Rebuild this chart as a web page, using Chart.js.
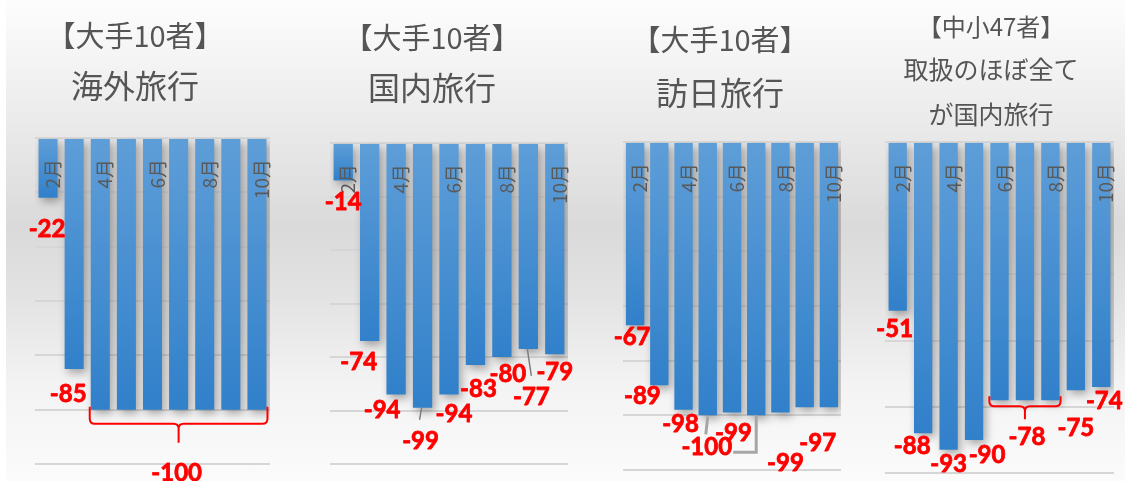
<!DOCTYPE html>
<html lang="ja">
<head>
<meta charset="utf-8">
<title>旅行取扱額 前年同月比</title>
<script src="https://cdn.jsdelivr.net/npm/chart.js@4/dist/chart.umd.min.js"></script>
<style>
  html, body { margin: 0; padding: 0; background: #ffffff; }
  #wrap {
    position: relative;
    width: 1125px;
    height: 481px;
    overflow: hidden;
    background: linear-gradient(to bottom, #fdfdfd 0%, #f0f0f0 18%, #dadada 47%, #e3e3e3 62%, #f3f3f3 80%, #fbfbfb 100%);
  }
  #left-strip { position: absolute; left: 0; top: 0; width: 6px; height: 481px; background: #ffffff; }
  canvas { position: absolute; top: 0; }
  .title {
    position: absolute;
    width: 300px;
    text-align: center;
    white-space: nowrap;
    color: #555555;
    font-family: "Noto Sans CJK JP", "Noto Sans", sans-serif;
  }
</style>
</head>
<body>
<div id="wrap">
  <div id="left-strip"></div>
  <canvas id="chart-overseas" width="300" height="481" style="left:0px"></canvas>
  <canvas id="chart-domestic" width="285" height="481" style="left:300px"></canvas>
  <canvas id="chart-inbound" width="280" height="481" style="left:585px"></canvas>
  <canvas id="chart-small" width="260" height="481" style="left:865px"></canvas>
</div>

<script>
// data (前年同月比 %)
const months = ['2月', '3月', '4月', '5月', '6月', '7月', '8月', '9月', '10月']
const tickLabels = ['2月', '4月', '6月', '8月', '10月']

const overseasTitle = ['【大手10者】', '海外旅行']
const domesticTitle = ['【大手10者】', '国内旅行']
const inboundTitle = ['【大手10者】', '訪日旅行']
const smallTitle = ['【中小47者】', '取扱のほぼ全て', 'が国内旅行']

const overseasValues = [-22, -85, -100, -100, -100, -100, -100, -100, -100]
const domesticValues = [-14, -74, -94, -99, -94, -83, -80, -77, -79]
const inboundValues = [-67, -89, -98, -100, -99, -100, -99, -97, -97]
const smallValues = [-51, -88, -93, -90, -78, -78, -78, -75, -74]

// layout per panel (label offsets are px from the bar end)
const panels = [
  {
    canvas: 'chart-overseas', title: overseasTitle, values: overseasValues, yMin: -120,
    pad: { left: 35, right: 30, top: 138, bottom: 17 }, barPct: 0.73,
    titleX: 135, titleLines: [{ size: 29, y: 34 }, { size: 32, y: 84 }],
    labels: [{ i: 0, dx: -1, dy: 31 }, { i: 1, dx: -6, dy: 25 }, { i: 5, dx: -2, dy: 64 }],
    braces: [{ from: 2, to: 8, lift: 3, drop: 17, tip: 19 }],
    leaders: []
  },
  {
    canvas: 'chart-domestic', title: domesticTitle, values: domesticValues, yMin: -120,
    pad: { left: 30, right: 17, top: 143, bottom: 17 }, barPct: 0.73,
    titleX: 432, titleLines: [{ size: 29, y: 36 }, { size: 32, y: 86 }],
    labels: [
      { i: 0, dx: 0, dy: 22 }, { i: 1, dx: -11, dy: 21 }, { i: 2, dx: -14, dy: 16 },
      { i: 3, dx: -2, dy: 33 }, { i: 4, dx: 5, dy: 20 }, { i: 5, dx: 3, dy: 24 },
      { i: 6, dx: 6, dy: 17 }, { i: 7, dx: 3, dy: 48 }, { i: 8, dx: 0, dy: 18 }
    ],
    braces: [],
    leaders: [
      { i: 3, pts: [[-1, 0], [-3, 12]] },
      { i: 7, pts: [[-1, 0], [3, 27]] }
    ],
    leaderColor: '#7f7f7f', leaderWidth: 1.5
  },
  {
    canvas: 'chart-inbound', title: inboundTitle, values: inboundValues, yMin: -120,
    pad: { left: 38, right: 24, top: 142, bottom: 11 }, barPct: 0.76,
    titleX: 720, titleLines: [{ size: 29, y: 38 }, { size: 32, y: 91 }],
    labels: [
      { i: 0, dx: -3, dy: 12 }, { i: 1, dx: -17, dy: 11 }, { i: 2, dx: -3, dy: 14 },
      { i: 3, dx: -1, dy: 32 }, { i: 4, dx: 1.5, dy: 21 }, { i: 6, dx: 5, dy: 51 },
      { i: 7, dx: 13, dy: 36 }
    ],
    braces: [],
    leaders: [
      { i: 3, pts: [[0, 1], [-2, 19]] },
      { i: 5, pts: [[0, 0], [0, 37], [-23, 37]] }
    ],
    leaderColor: '#a6a6a6', leaderWidth: 3
  },
  {
    canvas: 'chart-small', title: smallTitle, values: smallValues, yMin: -100,
    pad: { left: 20, right: 11, top: 142, bottom: 8 }, barPct: 0.72,
    titleX: 991, titleLines: [{ size: 24, y: 26 }, { size: 25, y: 68 }, { size: 25, y: 113 }],
    labels: [
      { i: 0, dx: -3, dy: 18 }, { i: 1, dx: -11, dy: 13 }, { i: 2, dx: 0, dy: 14 },
      { i: 3, dx: 13, dy: 15 }, { i: 5, dx: 2, dy: 37 }, { i: 7, dx: 0, dy: 38 },
      { i: 8, dx: 3, dy: 14 }
    ],
    braces: [{ from: 4, to: 6, lift: 4, drop: 10, tip: 13 }],
    leaders: []
  }
]

// gradasi biru per batang, terang di atas dan gelap di ujung
function barGradient(context) {
  const chart = context.chart
  const { ctx, chartArea, scales } = chart
  if (!chartArea || !scales.y) return '#4a8fd2'
  const y0 = scales.y.getPixelForValue(0)
  const y1 = scales.y.getPixelForValue(context.raw)
  const g = ctx.createLinearGradient(0, y0, 0, y1 + 0.01)
  g.addColorStop(0, '#5e9ed8')
  g.addColorStop(1, '#3180ca')
  return g
}

function drawBrace(ctx, x1, x2, yTop, drop, tip) {
  const yb = yTop + drop
  const xm = (x1 + x2) / 2
  const r = 5
  ctx.beginPath()
  ctx.moveTo(x1, yTop)
  ctx.lineTo(x1, yb - r)
  ctx.quadraticCurveTo(x1, yb, x1 + r, yb)
  ctx.lineTo(xm - r, yb)
  ctx.quadraticCurveTo(xm, yb, xm, yb + r)
  ctx.lineTo(xm, yb + tip)
  ctx.moveTo(xm, yb + r)
  ctx.quadraticCurveTo(xm, yb, xm + r, yb)
  ctx.lineTo(x2 - r, yb)
  ctx.quadraticCurveTo(x2, yb, x2, yb - r)
  ctx.lineTo(x2, yTop)
  ctx.stroke()
}

const decorPlugin = {
  id: 'decor',
  beforeDatasetsDraw(chart) {
    const ctx = chart.ctx
    ctx.save()
    ctx.shadowColor = 'rgba(0, 0, 0, 0.32)'
    ctx.shadowBlur = 9
    ctx.shadowOffsetX = 3
    ctx.shadowOffsetY = 4
  },
  afterDatasetsDraw(chart, args, opts) {
    const ctx = chart.ctx
    ctx.restore()
    const panel = opts.panel
    const bars = chart.getDatasetMeta(0).data
    const xScale = chart.scales.x
    const yScale = chart.scales.y
    const zeroY = yScale.getPixelForValue(0)

    // label bulan (vertikal, di dalam batang)
    ctx.save()
    ctx.fillStyle = '#595959'
    ctx.font = '19px "Noto Sans CJK JP", sans-serif'
    ctx.textAlign = 'right'
    ctx.textBaseline = 'middle'
    tickLabels.forEach(label => {
      const idx = months.indexOf(label)
      const x = xScale.getPixelForValue(idx) + 5
      ctx.save()
      ctx.translate(x, zeroY + 21)
      ctx.rotate(-Math.PI / 2)
      ctx.fillText(label, 0, 0)
      ctx.restore()
    })
    ctx.restore()

    // kurung kurawal merah
    ctx.save()
    ctx.strokeStyle = '#ff0000'
    ctx.lineWidth = 2
    panel.braces.forEach(b => {
      const a = bars[b.from]
      const z = bars[b.to]
      drawBrace(ctx, a.x - a.width / 2 - 1, z.x + z.width / 2 + 1, a.y - b.lift, b.drop, b.tip)
    })
    ctx.restore()

    // garis penunjuk abu-abu
    ctx.save()
    ctx.strokeStyle = panel.leaderColor || '#808080'
    ctx.lineWidth = panel.leaderWidth || 1.5
    panel.leaders.forEach(l => {
      const bar = bars[l.i]
      ctx.beginPath()
      l.pts.forEach((p, k) => {
        if (k === 0) ctx.moveTo(bar.x + p[0], bar.y + p[1])
        else ctx.lineTo(bar.x + p[0], bar.y + p[1])
      })
      ctx.stroke()
    })
    ctx.restore()

    // angka merah (sedikit ditebalkan dengan stroke)
    ctx.save()
    ctx.fillStyle = '#ff0000'
    ctx.strokeStyle = '#ff0000'
    ctx.lineWidth = 0.8
    ctx.lineJoin = 'round'
    ctx.font = 'bold 24px Lato, "Liberation Sans", sans-serif'
    ctx.textAlign = 'center'
    ctx.textBaseline = 'middle'
    panel.labels.forEach(l => {
      const bar = bars[l.i]
      const text = String(panel.values[l.i])
      ctx.fillText(text, bar.x + l.dx, bar.y + l.dy)
      ctx.strokeText(text, bar.x + l.dx, bar.y + l.dy)
    })
    ctx.restore()
  }
}

function buildTitle(panel) {
  const wrap = document.getElementById('wrap')
  panel.title.forEach((text, k) => {
    const line = panel.titleLines[k]
    const div = document.createElement('div')
    div.className = 'title'
    div.textContent = text
    div.style.left = (panel.titleX - 150) + 'px'
    div.style.top = (line.y - line.size / 2) + 'px'
    div.style.fontSize = line.size + 'px'
    div.style.lineHeight = line.size + 'px'
    wrap.appendChild(div)
  })
}

function initializeCharts() {
  panels.forEach(panel => {
    buildTitle(panel)
    new Chart(document.getElementById(panel.canvas), {
      type: 'bar',
      data: {
        labels: months,
        datasets: [{
          data: panel.values,
          backgroundColor: barGradient,
          borderWidth: 0,
          barPercentage: panel.barPct,
          categoryPercentage: 1
        }]
      },
      options: {
        responsive: false,
        animation: false,
        devicePixelRatio: 1,
        layout: { padding: panel.pad },
        plugins: {
          legend: { display: false },
          tooltip: { enabled: false },
          decor: { panel: panel }
        },
        scales: {
          x: { display: false },
          y: {
            min: panel.yMin,
            max: 0,
            ticks: { display: false, stepSize: 20 },
            grid: { color: '#d6d6d6', lineWidth: 2, drawTicks: false },
            border: { display: false }
          }
        }
      },
      plugins: [decorPlugin]
    })
  })
}

window.addEventListener('load', () => {
  initializeCharts()
})
</script>
</body>
</html>
